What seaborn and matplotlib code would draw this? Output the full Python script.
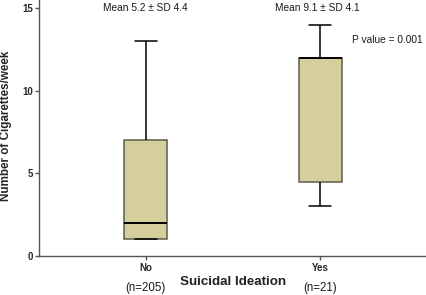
import numpy as np
import pandas as pd
import matplotlib
matplotlib.use("Agg")
import matplotlib.pyplot as plt
import seaborn as sns

sns.set_style("ticks")
plt.rcParams['font.family'] = ['Liberation Sans', 'DejaVu Sans']

# five-number summaries (min, q1, median, q3, max)
groups = ['No', 'Yes']
no_vals = [1, 1, 2, 7, 13]
yes_vals = [3, 4.5, 12, 12, 14]
n_labels = ['(n=205)', '(n=21)']
mean_labels = ['Mean 5.2 \u00b1 SD 4.4', 'Mean 9.1 \u00b1 SD 4.1']
p_label = 'P value = 0.001'

df = pd.DataFrame({
    'group': ['No'] * len(no_vals) + ['Yes'] * len(yes_vals),
    'cigs': no_vals + yes_vals,
})

fig = plt.figure(figsize=(4.27, 2.95), dpi=100)
ax = fig.add_axes([39 / 427, 39 / 295, 388 / 427, 256 / 295])

sns.boxplot(data=df, x='group', y='cigs', order=groups, width=0.25,
            color='#d5d09b', linewidth=1.1, whis=1.5, showfliers=False,
            boxprops=dict(facecolor='#d5d09b', edgecolor='#5e5e4c'),
            whiskerprops=dict(color='black'),
            capprops=dict(color='black'),
            medianprops=dict(color='black', linewidth=1.4),
            ax=ax)

ax.set_xlim(-0.61, 1.61)
ax.set_ylim(0, 15.5)
ax.set_yticks([0, 5, 10, 15])
sns.despine(ax=ax)
for s in ['left', 'bottom']:
    ax.spines[s].set_color('#555555')
    ax.spines[s].set_linewidth(1.0)
ax.tick_params(axis='both', length=3, color='#555555', width=1.0,
               labelsize=7)
for lab in ax.get_xticklabels() + ax.get_yticklabels():
    lab.set_fontweight('bold')
ax.tick_params(axis='y', pad=1)
ax.tick_params(axis='x', pad=2)

ax.set_xlabel('')
ax.set_ylabel('Number of Cigarettes/week', fontsize=8.4, fontweight='bold')
ax.yaxis.set_label_coords(-0.07, 0.51)

# annotations
for i, t in enumerate(mean_labels):
    ax.text(i - 0.015 * i, 15.0, t, ha='center', va='center', fontsize=7.3,
            color='#1a1a1a')
ax.text(1.18, 13.05, p_label, ha='left', va='center', fontsize=7.3,
        color='#1a1a1a')

fig.text(233 / 427, 1 - 282 / 295, 'Suicidal Ideation', ha='center',
         va='center', fontsize=9.6, fontweight='bold', color='#222222')
for i, t in enumerate(n_labels):
    x = ax.transData.transform((i, 0))[0] / fig.dpi / 4.27
    fig.text(x, 1 - 288 / 295, t, ha='center', va='center', fontsize=8.3,
             color='#1a1a1a')

fig.savefig('out.png', dpi=100)
